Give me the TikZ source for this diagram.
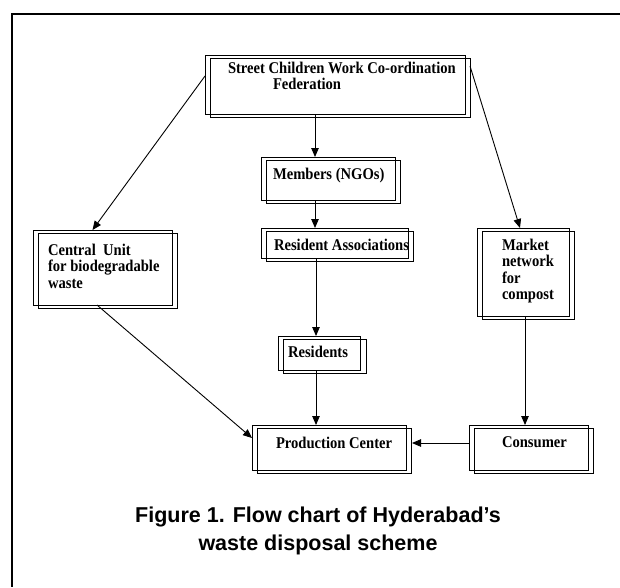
\documentclass[tikz,border=0pt]{standalone}
\usepackage{fontspec}
\setmainfont{Liberation Serif}
\newfontfamily\boxfont[FakeStretch=0.89]{Liberation Serif}
\newfontfamily\capfont{Liberation Sans}
\usetikzlibrary{arrows.meta}
\newcommand\boxtxt[5]{\parbox[c][#2pt][t]{#1pt}{\raggedright\leftskip=#4pt\relax\rightskip=-150pt plus 1fil\relax\vspace*{\dimexpr#3pt-12pt\relax}\rule{0pt}{12pt}#5}}
\begin{document}
\begin{tikzpicture}[x=1pt,y=-1pt,
  bx/.style={draw, line width=0.8pt, inner sep=0pt, outer sep=0pt, anchor=north west, font=\boxfont\fontsize{16.4}{16.5}\selectfont\bfseries},
  shadowbox/.style={draw, line width=0.8pt},
  arr/.style={line width=0.9pt, -{Triangle[length=9pt,width=7.5pt]}}]
\useasboundingbox (0,0) rectangle (620,587);
\draw[line width=2.7pt, line join=miter] (620,14) -- (12,14) -- (12,587);

\node[bx] (top) at (205,55) {\boxtxt{260}{59}{18}{23}{Street Children Work Co-ordination\\\hspace*{45pt}Federation}};
\node[bx] (mem) at (261,157) {\boxtxt{134}{43}{22}{12}{Members (NGOs)}};
\node[bx] (ra) at (261,228) {\boxtxt{147}{30}{22}{13}{Resident Associations}};
\node[bx] (res) at (278,336) {\boxtxt{82}{34}{21}{10}{Residents}};
\node[bx] (prod) at (252,425) {\boxtxt{154}{45}{23}{24}{Production Center}};
\node[bx] (con) at (469,425) {\boxtxt{119}{45}{22}{33}{Consumer}};
\node[bx] (cu) at (33,230) {\boxtxt{139}{75}{25}{15}{Central\ \ Unit\\for biodegradable\\waste}};
\node[bx] (mkt) at (477,228) {\boxtxt{92}{88}{22}{25}{Market\\network\\for\\compost}};

\foreach \n/\dx/\dy in {top/5/3, mem/5/3, ra/5/3, prod/5/3, con/5/3, cu/5/3, mkt/5/3}
  \draw[shadowbox] ([shift={(\dx,\dy)}]\n.north west) rectangle ([shift={(\dx,\dy)}]\n.south east);
\draw[shadowbox] ([shift={(5,3)}]res.north west) rectangle ([shift={(6,3)}]res.south east);

\draw[arr] ([yshift=8.5pt]top.west) -- ([xshift=-10pt]cu.north);
\draw[arr] ([xshift=-20pt]top.south) -- ([xshift=-13pt]mem.north);
\draw[arr] ([xshift=-13pt]mem.south) -- ([xshift=-19.5pt]ra.north);
\draw[arr] ([xshift=-18.5pt]ra.south) -- ([xshift=-3pt]res.north);
\draw[arr] ([xshift=-3pt]res.south) -- ([xshift=-13pt]prod.north);
\draw[arr] ([xshift=5pt,yshift=18.5pt]top.east) -- ([xshift=-3pt]mkt.north);
\draw[arr] ([xshift=-5.5pt]cu.south) -- ([yshift=9.5pt]prod.west);
\draw[arr] ([xshift=2pt]mkt.south) -- ([xshift=-3.5pt]con.north);
\draw[arr] ([yshift=4.5pt]con.west) -- ([xshift=6pt,yshift=4.5pt]prod.east);

\node[font=\capfont\bfseries\fontsize{21.5}{28}\selectfont, align=center, anchor=north, inner sep=0pt] (cap) at (318,500) {\rule{0pt}{22pt}Figure 1. Flow chart of Hyderabad’s\\waste disposal scheme};
\end{tikzpicture}
\end{document}
